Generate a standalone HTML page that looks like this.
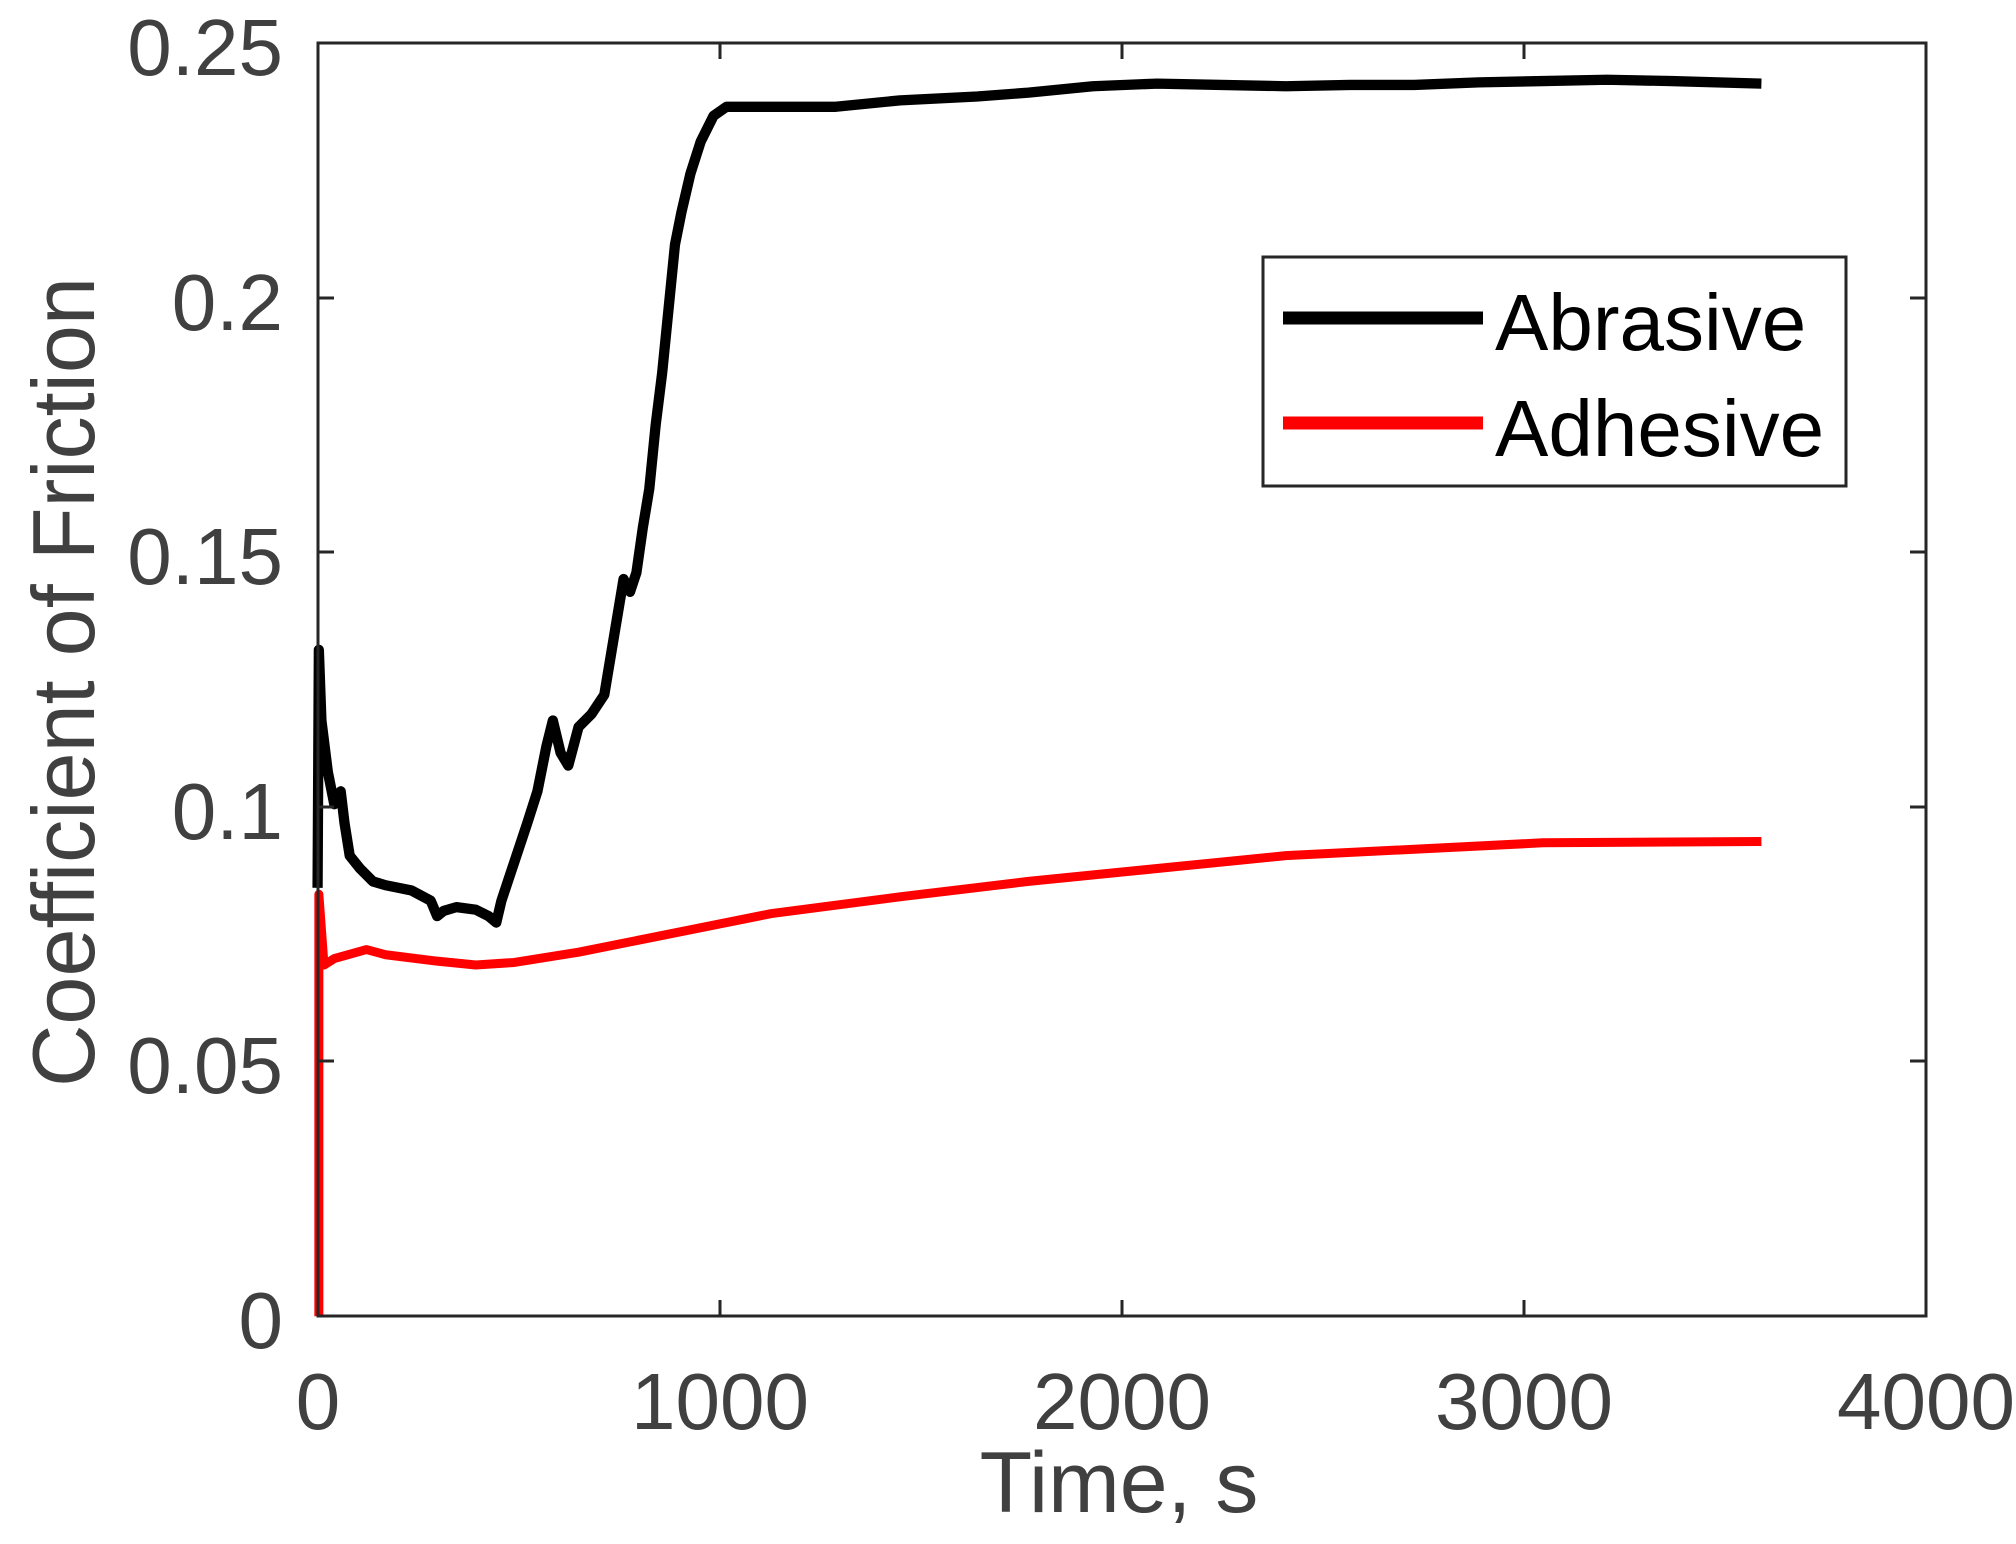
<!DOCTYPE html>
<html><head><style>
html,body{margin:0;padding:0;background:#fff;}
svg{display:block;}
</style></head><body>
<svg width="2016" height="1544" viewBox="0 0 2016 1544" xmlns="http://www.w3.org/2000/svg">
<rect width="2016" height="1544" fill="#fff"/>
<g transform="scale(1.2857,1.2867)" fill="none" stroke-linejoin="round" stroke-linecap="butt">
<polyline stroke="#000" stroke-width="8" points="247,690 248,505 250,560 255,600 260,625 265,615 268,640 272,665 280,675 290,685 300,688 320,692 335,700 340,712 345,708 355,705 370,707 380,712 386,717 390,700 400,670 410,640 418,615 425,580 430,560 436,585 442,595 450,565 460,555 470,540 475,510 480,480 485,450 490,460 495,445 500,410 505,380 510,330 515,290 520,240 525,190 530,165 537,135 545,110 555,90 565,83 600,83 650,83 700,78 760,75 800,72 850,67 900,65 950,66 1000,67 1050,66 1100,66 1150,64 1200,63 1250,62 1300,63 1370,65"/>
<polyline stroke="#f00" stroke-width="7" points="248,1023 248,695 252,750 260,745 285,738 300,742 340,747 370,750 400,748 450,740 500,730 550,720 600,710 700,697 800,685 900,675 1000,665 1100,660 1200,655 1370,654"/>
</g>
<g stroke="#262626" stroke-width="3" fill="none">
<rect x="318" y="43" width="1608" height="1273"/>
<path d="M720,1316v-16M1122,1316v-16M1524,1316v-16M720,43v16M1122,43v16M1524,43v16
M318,1061h16M318,807h16M318,552h16M318,298h16M1926,1061h-16M1926,807h-16M1926,552h-16M1926,298h-16"/>
</g>
<g font-family="Liberation Sans, Arial, sans-serif" fill="#404040" font-size="80">
<g text-anchor="end">
<text x="283" y="75">0.25</text>
<text x="283" y="330">0.2</text>
<text x="283" y="584">0.15</text>
<text x="283" y="839">0.1</text>
<text x="283" y="1093">0.05</text>
<text x="283" y="1348">0</text>
</g>
<g text-anchor="middle">
<text x="318" y="1429">0</text>
<text x="720" y="1429">1000</text>
<text x="1122" y="1429">2000</text>
<text x="1524" y="1429">3000</text>
<text x="1926" y="1429">4000</text>
<text x="1119" y="1512" font-size="86">Time, s</text>
<text transform="translate(94,682) rotate(-90)" font-size="88" textLength="810" lengthAdjust="spacingAndGlyphs">Coefficient of Friction</text>
</g>
</g>
<rect x="1263" y="257" width="583" height="229" fill="#fff" stroke="#262626" stroke-width="3"/>
<line x1="1283" y1="318" x2="1483" y2="318" stroke="#000" stroke-width="13"/>
<line x1="1283" y1="423" x2="1483" y2="423" stroke="#f00" stroke-width="13"/>
<g font-family="Liberation Sans, Arial, sans-serif" fill="#000" font-size="80">
<text x="1495" y="350">Abrasive</text>
<text x="1495" y="456">Adhesive</text>
</g>
</svg>
</body></html>
